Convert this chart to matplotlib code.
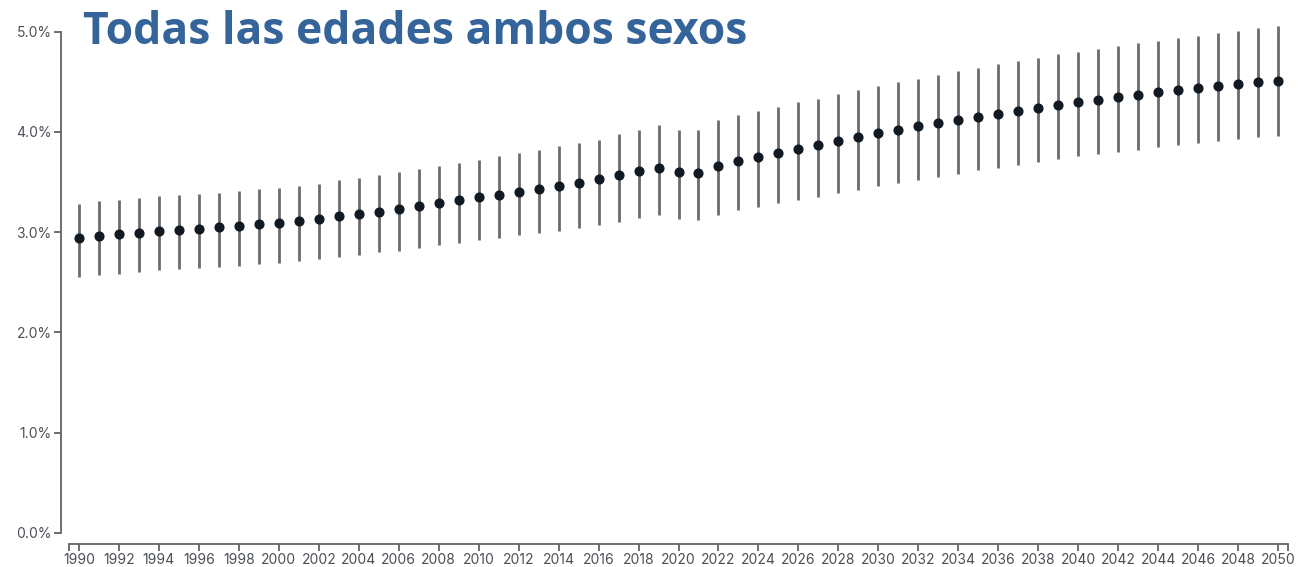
import matplotlib
matplotlib.use("Agg")
import matplotlib.pyplot as plt
import numpy as np
from matplotlib.ticker import FuncFormatter

# ---------------------------------------------------------------------------
# Data (percent)
# ---------------------------------------------------------------------------
years = list(range(1990, 2051))

mid = [2.945, 2.961, 2.981, 2.995, 3.008, 3.025, 3.035, 3.048, 3.065, 3.078,
       3.091, 3.111, 3.131, 3.157, 3.180, 3.204, 3.227, 3.258, 3.290, 3.320,
       3.347, 3.373, 3.403, 3.430, 3.463, 3.493, 3.526, 3.566, 3.606, 3.642,
       3.596, 3.586, 3.655, 3.712, 3.749, 3.788, 3.825, 3.865, 3.908, 3.947,
       3.987, 4.021, 4.054, 4.084, 4.120, 4.150, 4.180, 4.210, 4.236, 4.266,
       4.296, 4.320, 4.343, 4.366, 4.393, 4.416, 4.436, 4.456, 4.476, 4.496,
       4.512]

upper = [3.284, 3.307, 3.324, 3.340, 3.357, 3.367, 3.383, 3.393, 3.413, 3.426,
         3.439, 3.459, 3.483, 3.516, 3.539, 3.569, 3.596, 3.625, 3.662, 3.689,
         3.722, 3.755, 3.788, 3.821, 3.855, 3.888, 3.924, 3.974, 4.021, 4.067,
         4.021, 4.014, 4.114, 4.173, 4.213, 4.253, 4.293, 4.330, 4.373, 4.419,
         4.462, 4.496, 4.532, 4.569, 4.605, 4.639, 4.675, 4.709, 4.738, 4.774,
         4.801, 4.824, 4.854, 4.884, 4.910, 4.940, 4.960, 4.983, 5.007, 5.033,
         5.053]

lower = [2.553, 2.570, 2.587, 2.606, 2.620, 2.630, 2.643, 2.653, 2.666, 2.679,
         2.692, 2.709, 2.729, 2.752, 2.776, 2.799, 2.816, 2.846, 2.869, 2.895,
         2.925, 2.945, 2.968, 2.991, 3.015, 3.041, 3.071, 3.101, 3.137, 3.167,
         3.134, 3.121, 3.174, 3.217, 3.250, 3.287, 3.317, 3.350, 3.386, 3.423,
         3.459, 3.489, 3.523, 3.553, 3.583, 3.616, 3.642, 3.672, 3.699, 3.728,
         3.755, 3.775, 3.795, 3.822, 3.845, 3.868, 3.888, 3.908, 3.932, 3.947,
         3.961]

y_ticks = [0, 1, 2, 3, 4, 5]
x_ticks = list(range(1990, 2051, 2))

TITLE = "Todas las edades ambos sexos"

AXIS_COLOR = "#5f6368"
LABEL_COLOR = "#4a4f55"

W, H = 1304, 567
fig = plt.figure(figsize=(W / 100, H / 100), dpi=100)
fig.patch.set_facecolor("white")

left, right = 69 / W, 1288 / W
bottom, top = (H - 533) / H, (H - 31.6) / H
ax = fig.add_axes([left, bottom, right - left, top - bottom])

# interval lines and point estimates
ax.vlines(years, lower, upper, color="#6b6b6b", linewidth=2.0, clip_on=False, zorder=2)
ax.plot(years, mid, "o", color="#111a22", markersize=6.3, clip_on=False, zorder=3)

ax.set_xlim(1989.5, 2050.5)
ax.set_ylim(0, 5)

# d3-like axes
for side in ("top", "right"):
    ax.spines[side].set_visible(False)
ax.spines["left"].set_position(("outward", 6))
ax.spines["bottom"].set_position(("outward", 8))
for side in ("left", "bottom"):
    ax.spines[side].set_color(AXIS_COLOR)
    ax.spines[side].set_linewidth(1.3)

ax.set_yticks(y_ticks)
ax.yaxis.set_major_formatter(FuncFormatter(lambda v, _: f"{v:.1f}%"))
ax.set_xticks(x_ticks)
ax.set_xticklabels([str(y) for y in x_ticks])
# outer ticks at the ends of the x domain
ax.set_xticks([1989.5, 2050.5], minor=True)

ax.tick_params(axis="both", which="both", length=5, width=1.3, color=AXIS_COLOR,
               labelcolor=LABEL_COLOR, labelsize=10, pad=1.5)
for lbl in ax.get_xticklabels() + ax.get_yticklabels():
    lbl.set_fontfamily(["Inter", "DejaVu Sans"])

fig.text(83 / W, (H - 44) / H, TITLE, fontsize=32, fontweight="bold",
         color="#34649a", family=["Open Sans", "DejaVu Sans"], va="baseline", ha="left")

fig.savefig("out.png", dpi=100, facecolor="white")
